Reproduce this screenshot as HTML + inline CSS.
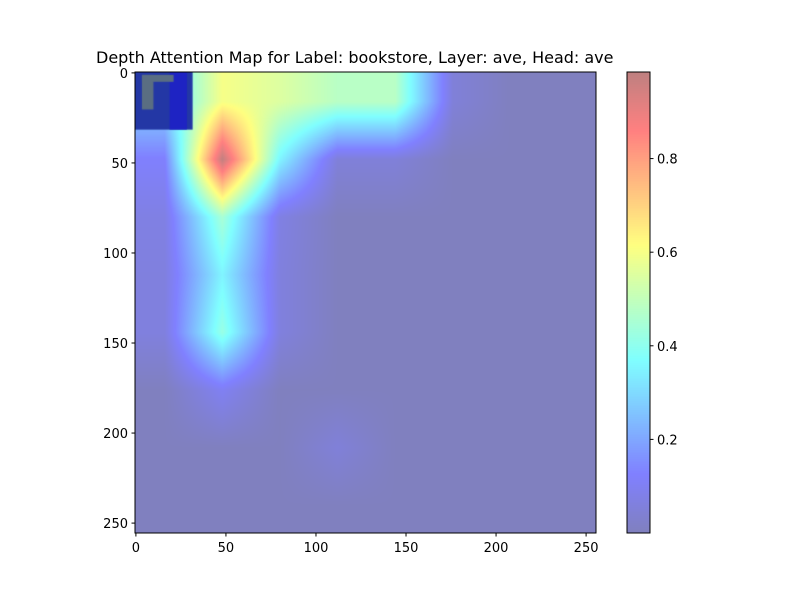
<!DOCTYPE html>
<html><head><meta charset="utf-8"><style>
body{margin:0;background:#fff;}
#wrap{position:relative;width:800px;height:600px;font-family:"DejaVu Sans","Liberation Sans",sans-serif;}
canvas{position:absolute;}
.t{position:absolute;font-size:13px;color:#000;white-space:nowrap;}
</style></head><body>
<div id="wrap">
<div class="t" style="left:96px;top:48px;font-size:16px;">Depth Attention Map for Label: bookstore, Layer: ave, Head: ave</div>
<canvas id="hm" width="461" height="461" style="left:135px;top:72px;"></canvas>
<canvas id="cb" width="23" height="461" style="left:627px;top:72px;"></canvas>
<svg id="ax" width="800" height="600" style="position:absolute;left:0;top:0;"></svg>
</div>
<script>
const gridRows = [
 [0.30,0.60,0.55,0.48,0.48,0.05,0,0],
 [0.12,0.98,0.35,0.05,0.05,0,0,0],
 [0.07,0.45,0.07,0,0,0,0,0],
 [0.06,0.35,0.06,0,0,0,0,0],
 [0.06,0.42,0.06,0,0,0,0,0],
 [0,0.10,0,0,0,0,0,0],
 [0,0,0,0.05,0,0,0,0],
 [0,0,0,0,0,0,0,0]
];
const axisTicks = [0,50,100,150,200,250];
const cbTicks = [0.2,0.4,0.6,0.8];
const vmin = 0.0, vmax = 0.985, N = 256;
const W = 461;
function jet(v){
 const r=Math.min(Math.max(Math.min(4*v-1.5,-4*v+4.5),0),1);
 const g=Math.min(Math.max(Math.min(4*v-0.5,-4*v+3.5),0),1);
 const b=Math.min(Math.max(Math.min(4*v+0.5,-4*v+2.5),0),1);
 return [r,g,b];
}
function blend(v){const c=jet(v);return c.map(x=>Math.round((x*0.5+0.5)*255));}
function sample(u,w){
 let gx=(u-16)/32, gy=(w-16)/32;
 gx=Math.max(0,Math.min(7,gx)); gy=Math.max(0,Math.min(7,gy));
 const x0=Math.min(6,Math.floor(gx)), y0=Math.min(6,Math.floor(gy));
 const fx=gx-x0, fy=gy-y0;
 const a=gridRows[y0][x0],b=gridRows[y0][x0+1],c=gridRows[y0+1][x0],d=gridRows[y0+1][x0+1];
 return (a*(1-fx)+b*fx)*(1-fy)+(c*(1-fx)+d*fx)*fy;
}
const hm=document.getElementById('hm').getContext('2d');
const img=hm.createImageData(W,W);
for(let py=0;py<W;py++)for(let px=0;px<W;px++){
 const u=(px+0.5)/W*N-0.5, w=(py+0.5)/W*N-0.5;
 const v=(sample(u,w)-vmin)/(vmax-vmin);
 const c=blend(Math.max(0,Math.min(1,v)));
 const i=(py*W+px)*4; img.data[i]=c[0];img.data[i+1]=c[1];img.data[i+2]=c[2];img.data[i+3]=255;
}
hm.putImageData(img,0,0);
const s=W/N*32;
hm.fillStyle='rgb(35,55,165)';hm.fillRect(0,0,s,s);
hm.fillStyle='rgb(30,35,195)';hm.fillRect(s*0.6,0,s*0.3,s);
hm.fillStyle='rgb(90,110,130)';hm.fillRect(s*0.12,s*0.05,s*0.2,s*0.6);
hm.fillRect(s*0.12,s*0.05,s*0.55,s*0.12);
const cb=document.getElementById('cb').getContext('2d');
for(let py=0;py<W;py++){const c=blend(1-py/(W-1));cb.fillStyle=`rgb(${c[0]},${c[1]},${c[2]})`;cb.fillRect(0,py,23,1);}
const svg=document.getElementById('ax');const NS='http://www.w3.org/2000/svg';
function el(t,a){const e=document.createElementNS(NS,t);for(const k in a)e.setAttribute(k,a[k]);svg.appendChild(e);return e;}
const fr=el('rect',{x:135,y:72,width:461,height:461,fill:'none',stroke:'#000','stroke-width':1});


const cf=el('rect',{x:627,y:72,width:23,height:461,fill:'none',stroke:'#000','stroke-width':1});


const FF='DejaVu Sans, Liberation Sans, sans-serif';
const sc=v=>135+(v+0.5)/N*W, scy=v=>72+(v+0.5)/N*W;
axisTicks.forEach(t=>{
 el('line',{x1:sc(t),x2:sc(t),y1:533,y2:536.5,stroke:'#000'});
 const tx=el('text',{x:sc(t),y:552,'text-anchor':'middle','font-size':13,'font-family':FF});tx.textContent=t;
 
 
 el('line',{x1:131.5,x2:135,y1:scy(t),y2:scy(t),stroke:'#000'});
 const ty=el('text',{x:128,y:scy(t)+5,'text-anchor':'end','font-size':13,'font-family':FF});ty.textContent=t;
 
 
});
cbTicks.forEach(t=>{
 const y=533-(t-vmin)/(vmax-vmin)*461;
 el('line',{x1:650,x2:653.5,y1:y,y2:y,stroke:'#000'});
 const c=el('text',{x:657,y:y+5,'font-size':13,'font-family':FF});c.textContent=t.toFixed(1);
 
 
});
</script>
</body></html>
